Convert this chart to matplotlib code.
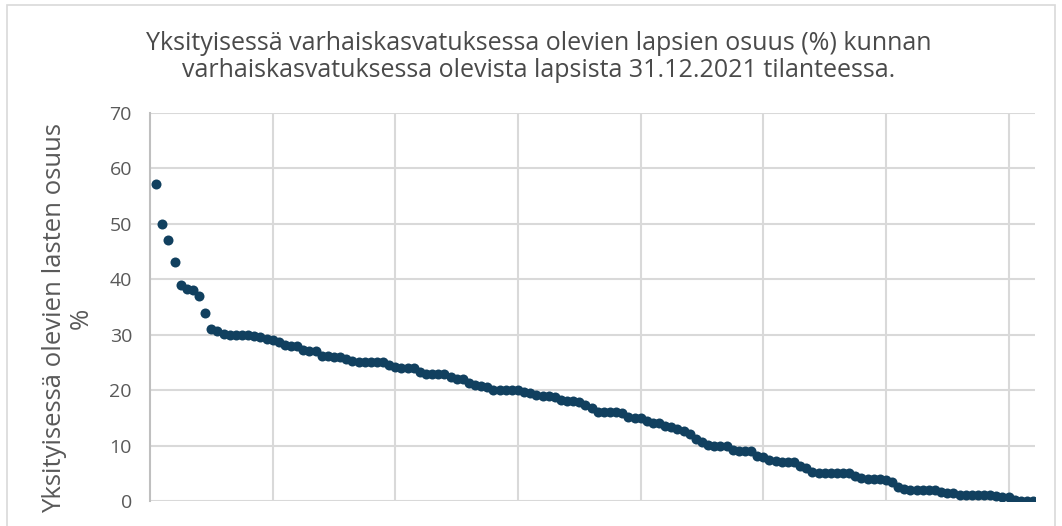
import numpy as np
import matplotlib
matplotlib.use("Agg")
import matplotlib.pyplot as plt
from matplotlib.patches import Rectangle

plt.rcParams['font.family'] = ['Open Sans', 'DejaVu Sans']

# osuus (%) kunnittain, suurimmasta pienimpään
osuus = [
    57.2, 50.0, 47.0, 43.2, 39.0, 38.2, 38.1, 37.0, 34.0, 31.0,
    30.7, 30.1, 30.0, 30.0, 30.0, 30.0, 29.7, 29.5, 29.3, 29.0,
    28.7, 28.1, 28.0, 28.0, 27.3, 27.0, 27.0, 26.2, 26.1, 26.0,
    26.0, 25.6, 25.3, 25.1, 25.0, 25.0, 25.0, 25.0, 24.6, 24.2,
    24.0, 24.0, 24.0, 23.2, 23.0, 23.0, 23.0, 23.0, 22.4, 22.1,
    22.0, 21.3, 21.0, 20.7, 20.5, 20.1, 20.0, 20.0, 20.0, 20.0,
    19.6, 19.4, 19.2, 19.0, 19.0, 18.7, 18.2, 18.0, 18.0, 17.8,
    17.3, 16.8, 16.1, 16.0, 16.0, 16.0, 15.8, 15.2, 15.0, 15.0,
    14.5, 14.1, 14.0, 13.6, 13.3, 13.0, 12.6, 12.0, 11.2, 10.7,
    10.1, 10.0, 10.0, 10.0, 9.2, 9.0, 9.0, 9.0, 8.1, 8.0,
    7.4, 7.2, 7.0, 7.0, 7.0, 6.3, 6.0, 5.2, 5.0, 5.0,
    5.0, 5.0, 5.0, 5.0, 4.5, 4.1, 4.0, 4.0, 4.0, 3.7,
    3.4, 2.6, 2.1, 2.0, 2.0, 2.0, 2.0, 2.0, 1.6, 1.5,
    1.4, 1.1, 1.0, 1.0, 1.0, 1.0, 1.0, 0.9, 0.8, 0.7,
    0.1, 0.0, 0.0, 0.0,
]
kunta_nro = np.arange(1, len(osuus) + 1)
y_ticks = [0, 10, 20, 30, 40, 50, 60, 70]
x_grid = [20, 40, 60, 80, 100, 120, 140]

title = ("Yksityisessä varhaiskasvatuksessa olevien lapsien osuus (%) kunnan\n"
         "varhaiskasvatuksessa olevista lapsista 31.12.2021 tilanteessa.")
ylabel = "Yksityisessä olevien lasten osuus\n%"

fig = plt.figure(figsize=(10.62, 5.26), dpi=100)
W, H = 1062, 526
ax = fig.add_axes([150 / W, (H - 501) / H, 885 / W, 388 / H])

ax.scatter(kunta_nro, osuus, s=52, color="#11405f", zorder=3, linewidths=0)

ax.set_xlim(0, 144.3)
ax.set_ylim(0, 70)
ax.set_yticks(y_ticks)
ax.set_xticks(x_grid)
ax.set_xticklabels([])
ax.tick_params(axis="both", length=0)
ax.tick_params(axis="y", labelsize=14, labelcolor="#595959", pad=13)
ax.grid(True, color="#d9d9d9", linewidth=1.5, zorder=0)
ax.set_axisbelow(True)
for s in ["top", "right", "bottom"]:
    ax.spines[s].set_visible(False)
ax.spines["left"].set_color("#bfbfbf")
ax.spines["left"].set_linewidth(1.5)

fig.text(539 / W, 1 - 57 / H, title, ha="center", va="center",
         fontsize=18, color="#4a4a4a", linespacing=1.15)
fig.text(68 / W, 1 - 318 / H, ylabel, ha="center", va="center",
         rotation=90, fontsize=18.5, color="#595959", linespacing=1.1)

fig.patches.append(Rectangle((7 / W, -0.01), (1055 - 7) / W, 1.0,
                             transform=fig.transFigure, fill=False,
                             edgecolor="#d9d9d9", linewidth=1.2))

fig.savefig("out.png", dpi=100, facecolor="white")
